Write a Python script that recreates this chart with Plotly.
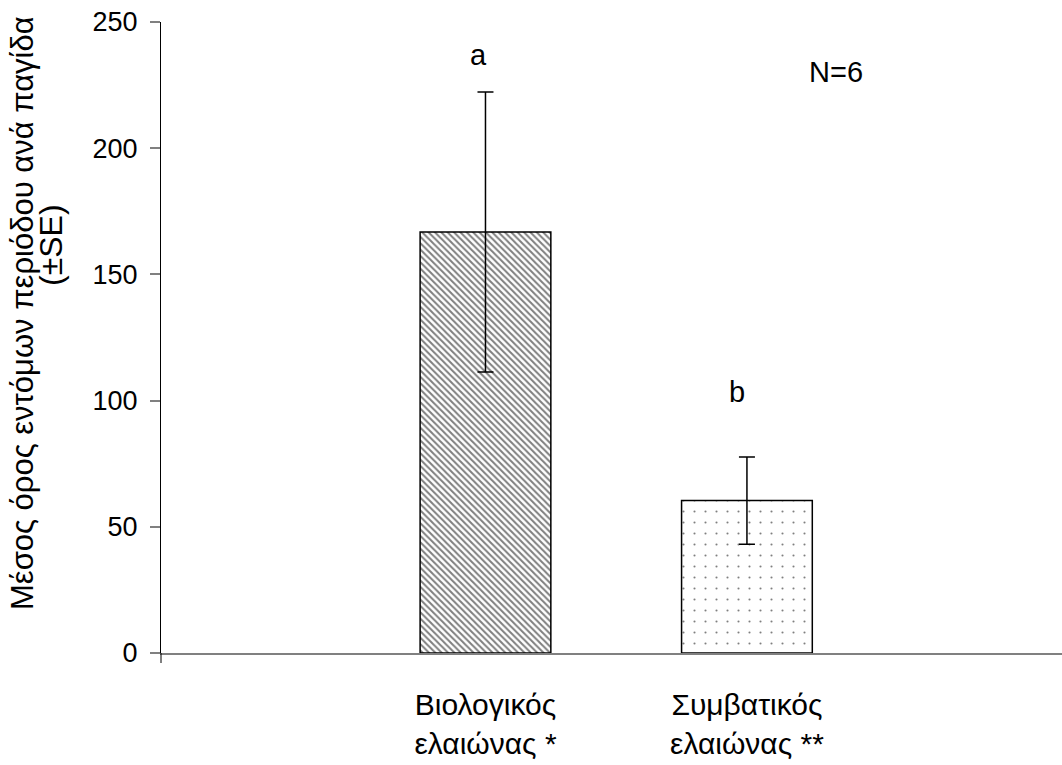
import plotly.graph_objects as go

# ---- data ----
categories = ["Βιολογικός<br>ελαιώνας *", "Συμβατικός<br>ελαιώνας **"]
means = [166.8, 60.4]
se = [55.5, 17.3]
letters = ["a", "b"]
y_ticks = [0, 50, 100, 150, 200, 250]
y_title_line1 = "Μέσος όρος εντόμων περιόδου ανά παγίδα"
y_title_line2 = "(±SE)"
n_label = "N=6"

FONT = "Arial, Liberation Sans, sans-serif"

fig = go.Figure()

patterns = [
    dict(shape="\\", fgcolor="black", bgcolor="white", size=4.5, solidity=0.45),
    dict(shape=".", fgcolor="black", bgcolor="white", size=11, solidity=0.03),
]

for i, cat in enumerate(categories):
    fig.add_trace(go.Bar(
        x=[cat], y=[means[i]],
        width=0.5,
        marker=dict(color="white", pattern=patterns[i],
                    line=dict(color="black", width=1.5)),
        error_y=dict(type="data", array=[se[i]], visible=True,
                     color="black", thickness=1.5, width=8),
        showlegend=False,
    ))

fig.update_layout(
    width=1062, height=765,
    margin=dict(l=161, r=0, t=22, b=112, autoexpand=False),
    plot_bgcolor="white", paper_bgcolor="white",
    font=dict(family=FONT, size=27, color="black"),
    bargap=0.5,
)

fig.update_xaxes(
    type="category", categoryorder="array", categoryarray=categories,
    range=[-1.241, 2.205],
    showline=True, linecolor="#808080", linewidth=1.5,
    ticks="", showgrid=False, zeroline=False,
    tickfont=dict(family=FONT, size=30, color="black"),
    ticklabelstandoff=24,
)
fig.update_yaxes(
    range=[0, 250], tickvals=y_ticks,
    showline=True, linecolor="black", linewidth=1,
    ticks="outside", ticklen=10, tickcolor="#808080", tickwidth=1.5,
    showgrid=False, zeroline=False,
    tickfont=dict(family=FONT, size=27, color="black"),
    ticklabelstandoff=7,
)

# small extension of the y-axis line below the x-axis
fig.add_shape(type="line", xref="paper", yref="paper",
              x0=0, x1=0, y0=0, y1=-10 / 631,
              line=dict(color="black", width=1))

# significance letters
fig.add_annotation(x=0, y=237, text=letters[0], showarrow=False,
                   xshift=-7, font=dict(size=29))
fig.add_annotation(x=1, y=103.4, text=letters[1], showarrow=False,
                   xshift=-10, font=dict(size=29))
fig.add_annotation(x=1.34, y=230, text=n_label, showarrow=False,
                   font=dict(size=29))

# y-axis title (two lines)
fig.add_annotation(xref="paper", yref="paper", x=(22 - 161) / 901, y=(653 - 612) / 631,
                   text=y_title_line1, textangle=-90, showarrow=False,
                   xanchor="center", yanchor="bottom", font=dict(size=31))
fig.add_annotation(xref="paper", yref="paper", x=(51 - 161) / 901, y=(653 - 245) / 631,
                   text=y_title_line2, textangle=-90, showarrow=False,
                   xanchor="center", yanchor="middle", font=dict(size=32))

fig.write_html(
    "out.html",
    config={"displayModeBar": False},
    post_script="document.body.style.margin='0';document.body.style.overflow='hidden';",
)
